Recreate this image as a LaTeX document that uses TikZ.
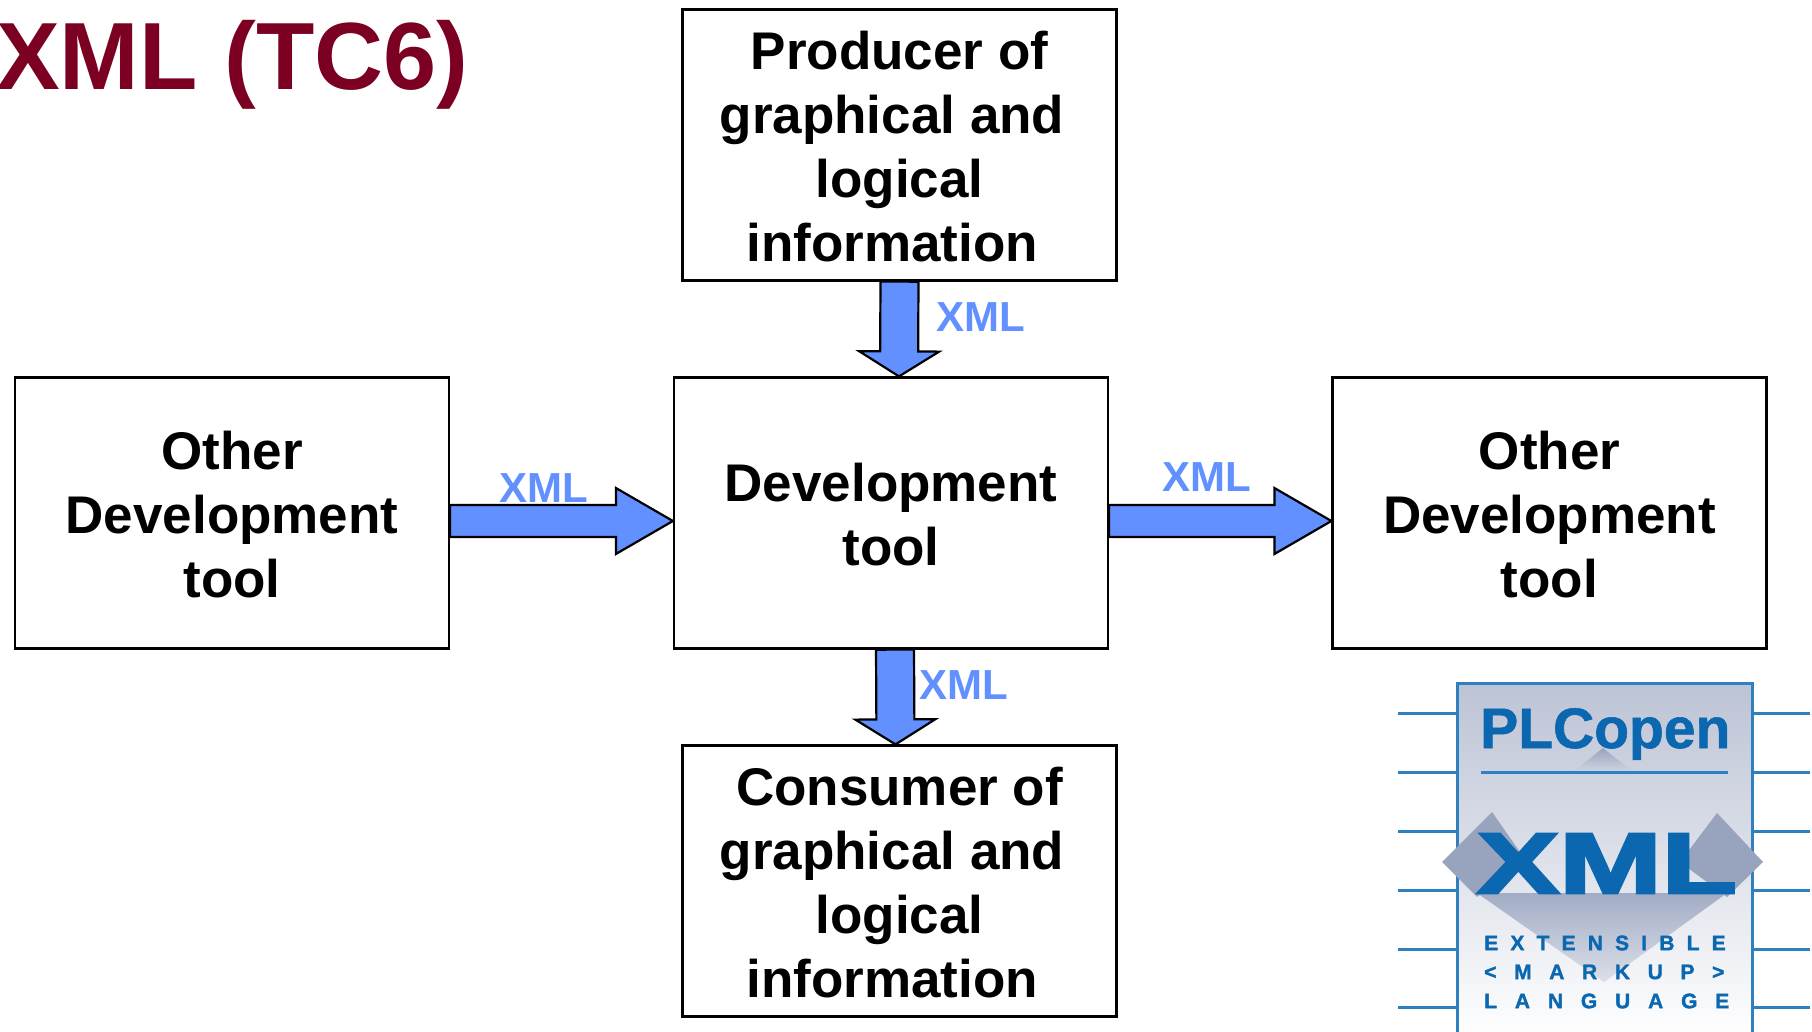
\documentclass[tikz,border=0pt]{standalone}
\usepackage{fontspec}
\setmainfont{Liberation Sans}
\usetikzlibrary{calc}

\definecolor{titlered}{HTML}{7B0022}
\definecolor{arrowblue}{HTML}{6290FF}
\definecolor{logoblue}{HTML}{0B67B0}
\definecolor{pinblue}{HTML}{2F80BE}
\definecolor{logogrey}{HTML}{98A3BE}

\newcommand{\toptext}{\rule{0pt}{41pt}}

\tikzset{
  toolbox/.style={draw=black,line width=2.2pt,fill=white,minimum width=434pt,minimum height=271pt,inner sep=0pt,align=center,font=\fontsize{53}{64}\selectfont\bfseries},
  xmllabel/.style={text=arrowblue,inner sep=0pt,font=\fontsize{42}{42}\selectfont\bfseries},
  pinline/.style={draw=pinblue,line width=3pt},
  logorow/.style={text=logoblue,inner sep=0pt,anchor=west,font=\fontsize{21}{21}\selectfont\bfseries},
  blockarrow/.style n args={3}{draw=black,line width=2.2pt,fill=arrowblue,to path={
    ($(\tikztostart)!#1!90:(\tikztotarget)$)
    -- ($ ($(\tikztotarget)!#3!(\tikztostart)$) !#1!90:(\tikztotarget) $)
    -- ($ ($(\tikztotarget)!#3!(\tikztostart)$) !#2!90:(\tikztotarget) $)
    -- (\tikztotarget)
    -- ($ ($(\tikztotarget)!#3!(\tikztostart)$) !#2!-90:(\tikztotarget) $)
    -- ($ ($(\tikztotarget)!#3!(\tikztostart)$) !#1!-90:(\tikztotarget) $)
    -- ($(\tikztostart)!#1!-90:(\tikztotarget)$) -- cycle}}
}

\begin{document}
\begin{tikzpicture}[x=1pt,y=-1pt]
\useasboundingbox (0,0) rectangle (1812,1032);

\node [anchor=base west,inner sep=0pt,text=titlered,font=\fontsize{95.5}{96}\selectfont\bfseries] (title) at (-4,90) {XML (TC6)};

\node [toolbox] (producer) at (899.5,145) {\toptext Producer of\\graphical and\rule{15pt}{0pt}\\logical\\information\rule{15pt}{0pt}};
\node [toolbox] (devtool) at (891,513) {\toptext Development\\tool};
\node [toolbox] (otherleft) at (232,513) {\toptext Other\\Development\\tool};
\node [toolbox] (otherright) at (1549.5,513) {\toptext Other\\Development\\tool};
\node [toolbox] (consumer) at (899.5,881) {\toptext Consumer of\\graphical and\rule{15pt}{0pt}\\logical\\information\rule{15pt}{0pt}};

% arrow ends
\coordinate (dnstart) at (producer.south);
\coordinate (dnend) at ([xshift=8pt]devtool.north);
\coordinate (instart) at ([yshift=-8pt]otherleft.east);
\coordinate (inend) at ([yshift=-8pt]devtool.west);
\coordinate (outstart) at ([yshift=-8pt]devtool.east);
\coordinate (outend) at ([yshift=-8pt]otherright.west);
\coordinate (botstart) at ([xshift=4pt]devtool.south);
\coordinate (botend) at ([xshift=-4pt]consumer.north);

\draw [blockarrow={19pt}{40pt}{25pt}] (dnstart) to (dnend);
\draw [blockarrow={16pt}{33pt}{57pt}] (instart) to (inend);
\draw [blockarrow={16pt}{33pt}{57pt}] (outstart) to (outend);
\draw [blockarrow={19pt}{40pt}{25pt}] (botstart) to (botend);

\node [xmllabel] (xmltop) at (981,317) {XML};
\node [xmllabel] (xmlin) at (544,488) {XML};
\node [xmllabel] (xmlout) at (1207,477) {XML};
\node [xmllabel] (xmlbot) at (964,685) {XML};

% logo
\foreach \Pin in {713,772,831,890,949,1007}{
    \draw [pinline] (1398,\Pin) -- (1457,\Pin);
    \draw [pinline] (1752,\Pin) -- (1810,\Pin);
}
\path [shade,top color=logogrey!65,middle color=white!92!logogrey,bottom color=white] (1457,683) rectangle (1752,1040);
\draw [pinblue,line width=3pt] (1457,1040) -- (1457,683) -- (1752,683) -- (1752,1040);

\path [shade,top color=logogrey,bottom color=logogrey!45] (1603,748) -- (1633,772) -- (1573,772) -- cycle; % small peak
\node [inner sep=0pt,anchor=base west,text=logoblue,font=\fontsize{57}{57}\selectfont\bfseries\addfontfeature{FakeBold=1}] (plcopen) at (1480,748) {PLCopen};
\draw [pinline] (1481,772) -- (1728,772);

\path [fill=logogrey] (1492,812) -- (1442,862) -- (1477,897) -- (1527,862) -- cycle;
\path [fill=logogrey] (1717,813) -- (1763,862) -- (1727,897) -- (1680,862) -- cycle;
\path [shade,top color=logogrey!90,bottom color=logogrey!35] (1477,893) -- (1727,893) -- (1604,982) -- cycle;

\node [inner sep=0pt,anchor=base,text=logoblue,xscale=1.43,font=\fontsize{86}{86}\selectfont\bfseries\addfontfeature{FakeBold=3}] (bigxml) at (1607,893) {XML};

\node [logorow] (rowone) at (1484,943) {\addfontfeature{LetterSpace=58,FakeBold=1.5}EXTENSIBLE};
\node [logorow] (rowtwo) at (1484,972) {\addfontfeature{LetterSpace=84,FakeBold=1.5}<MARKUP>};
\node [logorow] (rowthree) at (1484,1001) {\addfontfeature{LetterSpace=85,FakeBold=1.5}LANGUAGE};

\end{tikzpicture}
\end{document}
